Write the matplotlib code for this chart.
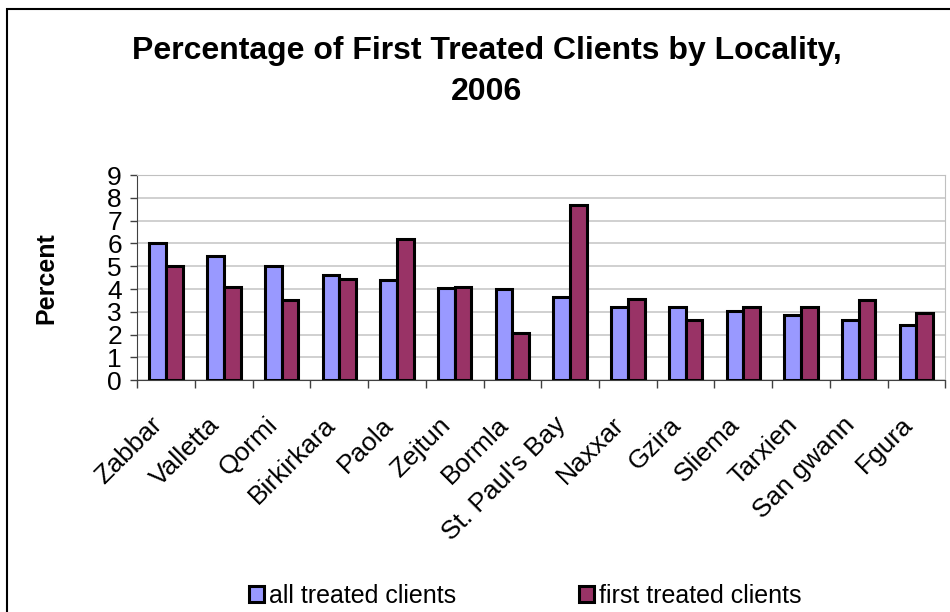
import matplotlib.pyplot as plt
import numpy as np
from matplotlib.patches import Rectangle

plt.rcParams['font.family'] = ['Liberation Sans', 'DejaVu Sans']

# Localities and percentages
localities = ["Zabbar", "Valletta", "Qormi", "Birkirkara", "Paola", "Zejtun", "Bormla",
              "St. Paul's Bay", "Naxxar", "Gzira", "Sliema", "Tarxien", "San gwann", "Fgura"]
all_treated = [6.04, 5.44, 5.03, 4.63, 4.40, 4.05, 3.99, 3.65, 3.23, 3.20, 3.06, 2.87, 2.63, 2.41]
first_treated = [5.00, 4.11, 3.54, 4.43, 6.18, 4.11, 2.06, 7.68, 3.55, 2.63, 3.23, 3.23, 3.54, 2.94]

fig = plt.figure(figsize=(9.5, 6.12), dpi=100)
ax = fig.add_axes([0.1445, 0.3786, 0.8505, 0.3354])

x = np.arange(len(localities))
w = 0.29
ax.bar(x - w / 2, all_treated, w, color="#9999FF", edgecolor="black", linewidth=2.2,
       label="all treated clients", zorder=3)
ax.bar(x + w / 2, first_treated, w, color="#993366", edgecolor="black", linewidth=2.2,
       label="first treated clients", zorder=3)

ax.set_xlim(-0.5, len(localities) - 0.5)
ax.set_ylim(0, 9)
ax.set_yticks(range(0, 10))
ax.yaxis.grid(True, color="#C8C8C8", linewidth=1.2, zorder=0)
ax.tick_params(axis="y", labelsize=19, length=5, width=1, color="#404040", pad=6)

# ticks sit between categories, labels at the centres
ax.set_xticks(np.arange(len(localities) + 1) - 0.5)
ax.set_xticklabels([])
ax.tick_params(axis="x", length=5.5, width=1, color="#404040")
for i, name in enumerate(localities):
    ax.annotate(name, xy=(i, 0), xycoords=("data", "axes fraction"),
                xytext=(-2, -33), textcoords="offset points",
                rotation=45, ha="right", va="baseline", rotation_mode="anchor", fontsize=19)

for s in ["left", "bottom"]:
    ax.spines[s].set_color("#404040")
for s in ["top", "right"]:
    ax.spines[s].set_color("#C0C0C0")

ax.set_ylabel("Percent", fontsize=18, fontweight="bold", labelpad=35)

fig.text(0.512, 0.883, "Percentage of First Treated Clients by Locality,\n2006",
         ha="center", va="center", fontsize=23, fontweight="bold", linespacing=1.45)

leg = fig.legend(loc="center left", bbox_to_anchor=(0.262, 0.026), ncol=2, frameon=False,
                 fontsize=18, handlelength=0.6, handleheight=0.6, handletextpad=0.2,
                 columnspacing=4.9, borderaxespad=0, borderpad=0)

# outer chart border
fig.patches.append(Rectangle((7 / 950, -0.1), 1.1, 1 - 9 / 612 + 0.1, transform=fig.transFigure,
                             fill=False, edgecolor="black", linewidth=1.5))

fig.savefig("out.png", dpi=100)
